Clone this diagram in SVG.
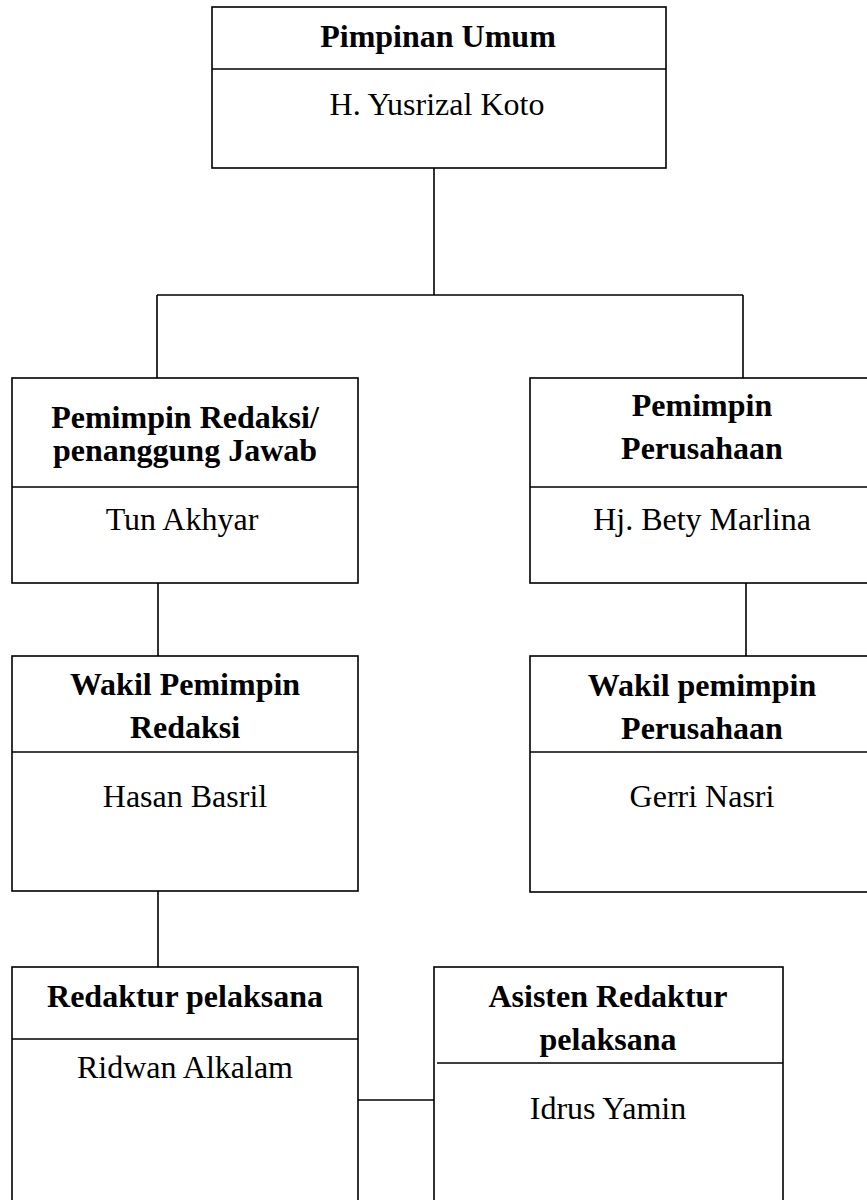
<svg xmlns="http://www.w3.org/2000/svg" width="867" height="1200" viewBox="0 0 867 1200">
<style>
.box{fill:#fff;stroke:#000;stroke-width:1.6}
.ln{fill:none;stroke:#000;stroke-width:1.6}
.t{font-family:"Liberation Serif","Times New Roman",serif;font-size:32px;fill:#000;text-anchor:middle}
.b{font-weight:bold}
</style>
<rect width="867" height="1200" fill="#fff"/>
<g id="connectors">
<line class="ln" x1="434" y1="168" x2="434" y2="295"/>
<line class="ln" x1="157" y1="295" x2="743" y2="295"/>
<line class="ln" x1="157" y1="295" x2="157" y2="378"/>
<line class="ln" x1="743" y1="295" x2="743" y2="378"/>
<line class="ln" x1="158" y1="583" x2="158" y2="656"/>
<line class="ln" x1="746" y1="583" x2="746" y2="656"/>
<line class="ln" x1="158" y1="891" x2="158" y2="967"/>
<line class="ln" x1="358" y1="1100" x2="438" y2="1100"/>
</g>
<g id="pimpinan-umum">
<rect class="box" x="212" y="7" width="454" height="161"/>
<line class="ln" x1="212" y1="69" x2="666" y2="69"/>
<text class="t b" x="438" y="47">Pimpinan Umum</text>
<text class="t" x="437" y="115">H. Yusrizal Koto</text>
</g>
<g id="pemimpin-redaksi">
<rect class="box" x="12" y="378" width="346" height="205"/>
<line class="ln" x1="12" y1="487" x2="358" y2="487"/>
<text class="t b" x="185" y="428">Pemimpin Redaksi/</text>
<text class="t b" x="185" y="461">penanggung Jawab</text>
<text class="t" x="182" y="530">Tun Akhyar</text>
</g>
<g id="pemimpin-perusahaan">
<rect class="box" x="530" y="378" width="344" height="205"/>
<line class="ln" x1="530" y1="487" x2="874" y2="487"/>
<text class="t b" x="702" y="416">Pemimpin</text>
<text class="t b" x="702" y="459">Perusahaan</text>
<text class="t" x="702" y="530">Hj. Bety Marlina</text>
</g>
<g id="wakil-pemimpin-redaksi">
<rect class="box" x="12" y="656" width="346" height="235"/>
<line class="ln" x1="12" y1="752" x2="358" y2="752"/>
<text class="t b" x="185" y="695">Wakil Pemimpin</text>
<text class="t b" x="185" y="738">Redaksi</text>
<text class="t" x="185" y="807">Hasan Basril</text>
</g>
<g id="wakil-pemimpin-perusahaan">
<rect class="box" x="530" y="656" width="344" height="236"/>
<line class="ln" x1="530" y1="752" x2="874" y2="752"/>
<text class="t b" x="702" y="696">Wakil pemimpin</text>
<text class="t b" x="702" y="739">Perusahaan</text>
<text class="t" x="702" y="807">Gerri Nasri</text>
</g>
<g id="redaktur-pelaksana">
<rect class="box" x="12" y="967" width="346" height="260"/>
<line class="ln" x1="12" y1="1039" x2="358" y2="1039"/>
<text class="t b" x="185" y="1007">Redaktur pelaksana</text>
<text class="t" x="185" y="1078">Ridwan Alkalam</text>
</g>
<g id="asisten-redaktur-pelaksana">
<rect class="box" x="434" y="967" width="349" height="260"/>
<line class="ln" x1="437" y1="1063" x2="783" y2="1063"/>
<text class="t b" x="608" y="1007">Asisten Redaktur</text>
<text class="t b" x="608" y="1050">pelaksana</text>
<text class="t" x="608" y="1119">Idrus Yamin</text>
</g>
</svg>
